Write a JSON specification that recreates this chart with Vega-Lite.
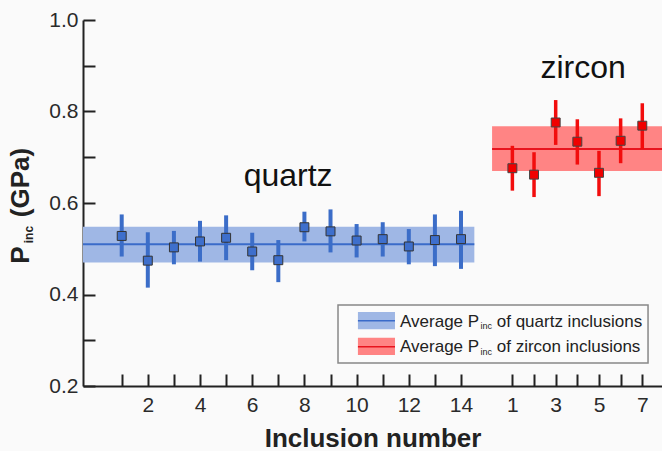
{
  "$schema": "https://vega.github.io/schema/vega-lite/v6.json",
  "width": 579,
  "height": 366,
  "autosize": {"type": "none"},
  "padding": {"left": 83, "top": 20, "right": 0, "bottom": 65},
  "background": "#fafafa",
  "config": {
    "view": {"stroke": null},
    "font": "Liberation Sans",
    "axis": {
      "labelFont": "Liberation Sans",
      "titleFont": "Liberation Sans",
      "labelFontSize": 21,
      "labelColor": "#2a2a2a",
      "domainColor": "#222",
      "domainWidth": 2,
      "tickColor": "#222",
      "tickWidth": 2,
      "tickSize": -12,
      "grid": false,
      "titleFontSize": 26,
      "titleFontWeight": "bold",
      "titleColor": "#222"
    }
  },
  "datasets": {
    "quartz": [
      {"n": 1, "v": 0.528, "lo": 0.483, "hi": 0.575},
      {"n": 2, "v": 0.474, "lo": 0.415, "hi": 0.536},
      {"n": 3, "v": 0.503, "lo": 0.466, "hi": 0.539},
      {"n": 4, "v": 0.516, "lo": 0.472, "hi": 0.561},
      {"n": 5, "v": 0.524, "lo": 0.475, "hi": 0.573},
      {"n": 6, "v": 0.494, "lo": 0.453, "hi": 0.535},
      {"n": 7, "v": 0.475, "lo": 0.427, "hi": 0.519},
      {"n": 8, "v": 0.547, "lo": 0.516, "hi": 0.581},
      {"n": 9, "v": 0.538, "lo": 0.492, "hi": 0.586},
      {"n": 10, "v": 0.518, "lo": 0.481, "hi": 0.554},
      {"n": 11, "v": 0.521, "lo": 0.483, "hi": 0.558},
      {"n": 12, "v": 0.505, "lo": 0.466, "hi": 0.543},
      {"n": 13, "v": 0.519, "lo": 0.462, "hi": 0.575},
      {"n": 14, "v": 0.521, "lo": 0.456, "hi": 0.583}
    ],
    "zircon": [
      {"n": 1, "v": 0.676, "lo": 0.627, "hi": 0.725},
      {"n": 2, "v": 0.662, "lo": 0.613, "hi": 0.711},
      {"n": 3, "v": 0.776, "lo": 0.727, "hi": 0.825},
      {"n": 4, "v": 0.734, "lo": 0.684, "hi": 0.783},
      {"n": 5, "v": 0.666, "lo": 0.615, "hi": 0.714},
      {"n": 6, "v": 0.736, "lo": 0.687, "hi": 0.785},
      {"n": 7, "v": 0.769, "lo": 0.718, "hi": 0.818}
    ],
    "qband": [{"x1": -0.483, "x2": 14.51, "b1": 0.470, "b2": 0.548, "m": 0.510}],
    "zband": [{"x1": 0.062, "x2": 7.91, "b1": 0.670, "b2": 0.768, "m": 0.718}],
    "legendBox": [{"x1": 9.287, "x2": 21.165, "y1": 0.377, "y2": 0.2503}],
    "legendSw": [
      {"g": "quartz", "x1": 10.05, "x2": 11.47, "y1": 0.3617, "y2": 0.3239, "ym": 0.3427},
      {"g": "zircon", "x1": 10.05, "x2": 11.47, "y1": 0.3056, "y2": 0.2678, "ym": 0.2859}
    ],
    "legendMain": [
      {"x": 11.663, "y": 0.3296, "t": "Average P"},
      {"x": 11.663, "y": 0.2737, "t": "Average P"},
      {"x": 15.368, "y": 0.3296, "t": "of quartz inclusions"},
      {"x": 15.368, "y": 0.2737, "t": "of zircon inclusions"}
    ],
    "legendSub": [
      {"x": 14.75, "y": 0.3239, "t": "inc"},
      {"x": 14.75, "y": 0.2678, "t": "inc"}
    ],
    "yTitleBig": [
      {"x": -2.877, "y": 0.4863, "t": "P"},
      {"x": -2.877, "y": 0.6448, "t": "(GPa)"}
    ],
    "yTitleSub": [{"x": -2.552, "y": 0.531, "t": "inc"}],
    "qLabel": [{"x": 7.375, "y": 0.637, "t": "quartz"}],
    "zLabel": [{"x": 4.266, "y": 0.8725, "t": "zircon"}]
  },
  "resolve": {"scale": {"x": "independent"}, "axis": {"x": "independent"}},
  "layer": [
    {
      "layer": [
        {
          "data": {"name": "qband"},
          "mark": {"type": "rect", "color": "#9fb7e5"},
          "encoding": {
            "x": {
              "field": "x1", "type": "quantitative",
              "scale": {"domain": [-0.483, 21.7], "nice": false, "zero": false},
              "axis": {
                "orient": "bottom",
                "values": [1, 2, 3, 4, 5, 6, 7, 8, 9, 10, 11, 12, 13, 14],
                "labelExpr": "datum.value % 2 == 0 ? datum.label : ''",
                "labelPadding": 20,
                "title": "Inclusion number",
                "titlePadding": 10
              }
            },
            "x2": {"field": "x2"},
            "y": {
              "field": "b1", "type": "quantitative",
              "scale": {"domain": [0.2, 1.0], "nice": false, "zero": false},
              "axis": {
                "values": [0.2, 0.3, 0.4, 0.5, 0.6, 0.7, 0.8, 0.9, 1.0],
                "labelExpr": "round(datum.value * 10) % 2 == 0 ? format(datum.value, '.1f') : ''",
                "labelPadding": 17,
                "title": null
              }
            },
            "y2": {"field": "b2"}
          }
        },
        {
          "data": {"name": "qband"},
          "mark": {"type": "rule", "color": "#3a6bc9", "strokeWidth": 2},
          "encoding": {
            "x": {"field": "x1", "type": "quantitative"},
            "x2": {"field": "x2"},
            "y": {"field": "m", "type": "quantitative"}
          }
        },
        {
          "data": {"name": "quartz"},
          "mark": {"type": "rule", "color": "#3b6dc8", "strokeWidth": 4},
          "encoding": {
            "x": {"field": "n", "type": "quantitative"},
            "y": {"field": "lo", "type": "quantitative"},
            "y2": {"field": "hi"}
          }
        },
        {
          "data": {"name": "quartz"},
          "mark": {"type": "point", "shape": "square", "filled": true, "size": 80, "color": "#3e6fcc", "stroke": "#333", "strokeWidth": 1, "opacity": 1},
          "encoding": {
            "x": {"field": "n", "type": "quantitative"},
            "y": {"field": "v", "type": "quantitative"}
          }
        },
        {
          "data": {"name": "qLabel"},
          "mark": {"type": "text", "fontSize": 32, "align": "center", "baseline": "alphabetic", "color": "#111"},
          "encoding": {
            "x": {"field": "x", "type": "quantitative"},
            "y": {"field": "y", "type": "quantitative"},
            "text": {"field": "t"}
          }
        },
        {
          "data": {"name": "yTitleBig"},
          "mark": {"type": "text", "fontSize": 26, "fontWeight": "bold", "angle": 270, "align": "center", "baseline": "middle", "color": "#222"},
          "encoding": {
            "x": {"field": "x", "type": "quantitative"},
            "y": {"field": "y", "type": "quantitative"},
            "text": {"field": "t"}
          }
        },
        {
          "data": {"name": "yTitleSub"},
          "mark": {"type": "text", "fontSize": 12, "fontWeight": "bold", "angle": 270, "align": "center", "baseline": "middle", "color": "#222"},
          "encoding": {
            "x": {"field": "x", "type": "quantitative"},
            "y": {"field": "y", "type": "quantitative"},
            "text": {"field": "t"}
          }
        },
        {
          "data": {"name": "legendBox"},
          "mark": {"type": "rect", "fill": "#fbfbfb", "stroke": "#888", "strokeWidth": 1.5},
          "encoding": {
            "x": {"field": "x1", "type": "quantitative"},
            "x2": {"field": "x2"},
            "y": {"field": "y1", "type": "quantitative"},
            "y2": {"field": "y2"}
          }
        },
        {
          "data": {"name": "legendSw"},
          "transform": [{"filter": "datum.g == 'quartz'"}],
          "mark": {"type": "rect", "color": "#9fb7e5"},
          "encoding": {
            "x": {"field": "x1", "type": "quantitative"},
            "x2": {"field": "x2"},
            "y": {"field": "y1", "type": "quantitative"},
            "y2": {"field": "y2"}
          }
        },
        {
          "data": {"name": "legendSw"},
          "transform": [{"filter": "datum.g == 'zircon'"}],
          "mark": {"type": "rect", "color": "#ff8484"},
          "encoding": {
            "x": {"field": "x1", "type": "quantitative"},
            "x2": {"field": "x2"},
            "y": {"field": "y1", "type": "quantitative"},
            "y2": {"field": "y2"}
          }
        },
        {
          "data": {"name": "legendSw"},
          "transform": [{"filter": "datum.g == 'quartz'"}],
          "mark": {"type": "rule", "color": "#3a6bc9", "strokeWidth": 1.5},
          "encoding": {
            "x": {"field": "x1", "type": "quantitative"},
            "x2": {"field": "x2"},
            "y": {"field": "ym", "type": "quantitative"}
          }
        },
        {
          "data": {"name": "legendSw"},
          "transform": [{"filter": "datum.g == 'zircon'"}],
          "mark": {"type": "rule", "color": "#e8141e", "strokeWidth": 1.5},
          "encoding": {
            "x": {"field": "x1", "type": "quantitative"},
            "x2": {"field": "x2"},
            "y": {"field": "ym", "type": "quantitative"}
          }
        },
        {
          "data": {"name": "legendMain"},
          "mark": {"type": "text", "fontSize": 17, "align": "left", "baseline": "alphabetic", "color": "#222"},
          "encoding": {
            "x": {"field": "x", "type": "quantitative"},
            "y": {"field": "y", "type": "quantitative"},
            "text": {"field": "t"}
          }
        },
        {
          "data": {"name": "legendSub"},
          "mark": {"type": "text", "fontSize": 9, "align": "left", "baseline": "alphabetic", "color": "#222"},
          "encoding": {
            "x": {"field": "x", "type": "quantitative"},
            "y": {"field": "y", "type": "quantitative"},
            "text": {"field": "t"}
          }
        },
        {
          "mark": {"type": "rule", "color": "#222", "strokeWidth": 2},
          "encoding": {
            "y": {"datum": 1.0, "type": "quantitative"}
          }
        }
      ]
    },
    {
      "layer": [
        {
          "data": {"name": "zband"},
          "mark": {"type": "rect", "color": "#ff8484"},
          "encoding": {
            "x": {
              "field": "x1", "type": "quantitative",
              "scale": {"domain": [-18.83, 7.91], "nice": false, "zero": false},
              "axis": {
                "orient": "bottom",
                "values": [1, 2, 3, 4, 5, 6, 7],
                "labelExpr": "datum.value % 2 == 1 ? datum.label : ''",
                "labelPadding": 20,
                "domain": false,
                "title": null
              }
            },
            "x2": {"field": "x2"},
            "y": {"field": "b1", "type": "quantitative"},
            "y2": {"field": "b2"}
          }
        },
        {
          "data": {"name": "zband"},
          "mark": {"type": "rule", "color": "#e8141e", "strokeWidth": 2},
          "encoding": {
            "x": {"field": "x1", "type": "quantitative"},
            "x2": {"field": "x2"},
            "y": {"field": "m", "type": "quantitative"}
          }
        },
        {
          "data": {"name": "zircon"},
          "mark": {"type": "rule", "color": "#f20d0d", "strokeWidth": 3.5},
          "encoding": {
            "x": {"field": "n", "type": "quantitative"},
            "y": {"field": "lo", "type": "quantitative"},
            "y2": {"field": "hi"}
          }
        },
        {
          "data": {"name": "zircon"},
          "mark": {"type": "point", "shape": "square", "filled": true, "size": 80, "color": "#f00000", "stroke": "#444", "strokeWidth": 1, "opacity": 1},
          "encoding": {
            "x": {"field": "n", "type": "quantitative"},
            "y": {"field": "v", "type": "quantitative"}
          }
        },
        {
          "data": {"name": "zLabel"},
          "mark": {"type": "text", "fontSize": 32, "align": "center", "baseline": "alphabetic", "color": "#111"},
          "encoding": {
            "x": {"field": "x", "type": "quantitative"},
            "y": {"field": "y", "type": "quantitative"},
            "text": {"field": "t"}
          }
        }
      ]
    }
  ]
}
